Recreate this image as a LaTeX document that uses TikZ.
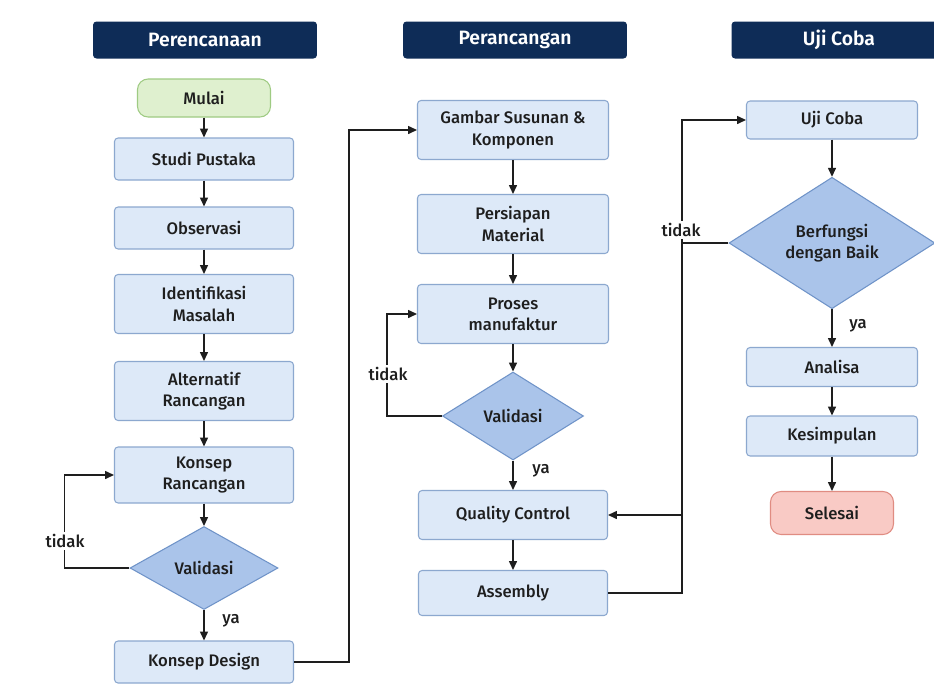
\documentclass[tikz,border=0pt]{standalone}
\usepackage{fontspec}
\setmainfont{Fira Sans Medium}[BoldFont={Fira Sans SemiBold}]
\usetikzlibrary{shapes.geometric,arrows.meta}
\definecolor{navy}{HTML}{0E2C57}
\definecolor{boxfill}{HTML}{DDE9F8}
\definecolor{boxline}{HTML}{8CA8CF}
\definecolor{dmfill}{HTML}{AAC4EA}
\definecolor{dmline}{HTML}{6F93C8}
\definecolor{gofill}{HTML}{DFF0CF}
\definecolor{goline}{HTML}{9FCB83}
\definecolor{endfill}{HTML}{F9CAC5}
\definecolor{endline}{HTML}{E08C82}
\definecolor{ink}{HTML}{1E1E1E}

\begin{document}
\begin{tikzpicture}[x=0.02cm, y=-0.02cm,
    every node/.style={font=\fontsize{9.5}{12}\selectfont, text=ink, align=center},
    header/.style={fill=navy, rounded corners=2pt, minimum width=4.48cm, minimum height=0.74cm,
      text=white, font=\fontsize{11}{13}\selectfont\bfseries},
    box/.style={draw=boxline, fill=boxfill, rounded corners=2pt, line width=0.6pt,
      minimum width=3.58cm, minimum height=0.84cm, inner sep=2pt},
    tall/.style={minimum height=1.18cm},
    dec/.style={diamond, draw=dmline, fill=dmfill, line width=0.6pt, inner sep=0pt},
    term/.style={rounded corners=6pt, line width=0.6pt, minimum height=0.76cm},
    lbl/.style={fill=white, inner sep=1.5pt},
    arr/.style={draw=ink, line width=0.7pt, -{Triangle[length=5pt,width=4.5pt]}},
    link/.style={draw=ink, line width=0.7pt}]
  \useasboundingbox (0,0) rectangle (934,697);
  \fill[white] (0,0) rectangle (934,697);

  % headers
  \node[header] (h1) at (205,40) {Perencanaan};
  \node[header] (h2) at (515,40) {Perancangan};
  \node[header, minimum width=4.3cm] (h3) at (839,40) {Uji Coba};

  % column 1: perencanaan
  \node[term, draw=goline, fill=gofill, minimum width=2.66cm] (mulai) at (204,98) {Mulai};
  \node[box] (sp) at (204,159) {Studi Pustaka};
  \node[box] (obs) at (204,228) {Observasi};
  \node[box, tall] (im) at (204,304) {Identifikasi\\Masalah};
  \node[box, tall] (ar) at (204,391) {Alternatif\\Rancangan};
  \node[box, minimum height=1.12cm] (kr) at (204,475) {Konsep\\Rancangan};
  \node[dec, minimum width=2.96cm, minimum height=1.66cm] (val1) at (204,568) {Validasi};
  \node[box] (kd) at (204,662) {Konsep Design};

  % column 2: perancangan
  \node[box, tall, minimum width=3.82cm] (gs) at (513,130) {Gambar Susunan \&\\Komponen};
  \node[box, tall, minimum width=3.82cm] (pm) at (513,224) {Persiapan\\Material};
  \node[box, tall, minimum width=3.82cm] (pf) at (513,314) {Proses\\manufaktur};
  \node[dec, minimum width=2.82cm, minimum height=1.76cm] (val2) at (513,416) {Validasi};
  \node[box, minimum width=3.78cm, minimum height=0.98cm] (qc) at (513,515) {Quality Control};
  \node[box, minimum width=3.78cm, minimum height=0.9cm] (asm) at (513,593) {Assembly};

  % column 3: uji coba
  \node[box, minimum width=3.42cm, minimum height=0.76cm] (uji) at (832,120) {Uji Coba};
  \node[dec, minimum width=4.12cm, minimum height=2.46cm] (bf) at (832,243) {Berfungsi\\dengan Baik};
  \node[box, minimum width=3.42cm, minimum height=0.78cm] (an) at (832,367) {Analisa};
  \node[box, minimum width=3.42cm, minimum height=0.8cm] (ks) at (832,436) {Kesimpulan};
  \node[term, draw=endline, fill=endfill, minimum width=2.46cm, minimum height=0.86cm] (sel) at (832,513) {Selesai};

  % straight arrows
  \foreach \a/\b in {mulai/sp, sp/obs, obs/im, im/ar, ar/kr, kr/val1, val1/kd,
                     gs/pm, pm/pf, pf/val2, val2/qc, qc/asm,
                     uji/bf, bf/an, an/ks, ks/sel}
    \draw[arr] (\a) -- (\b);

  % loops and links between columns
  \draw[arr] (val1.west) -- ++(-65,0) |- (kr.west);
  \draw[arr] (val2.west) -- ++(-55,0) |- (pf.west);
  \draw[arr] (kd.east) -- ++(55,0) |- (gs.west);
  \draw[arr] (asm.east) -- ++(74,0) |- (uji.west);
  \draw[arr] (bf.west) -- ++(-47,0) |- (qc.east);

  % labels
  \node[lbl] (t1) at (65,541) {tidak};
  \node[lbl] (t2) at (388,374) {tidak};
  \node[lbl] (t3) at (681,230) {tidak};
  \node (y1) at (231,621) {ya};
  \node (y2) at (541,471) {ya};
  \node (y3) at (858,326) {ya};
\end{tikzpicture}
\end{document}
